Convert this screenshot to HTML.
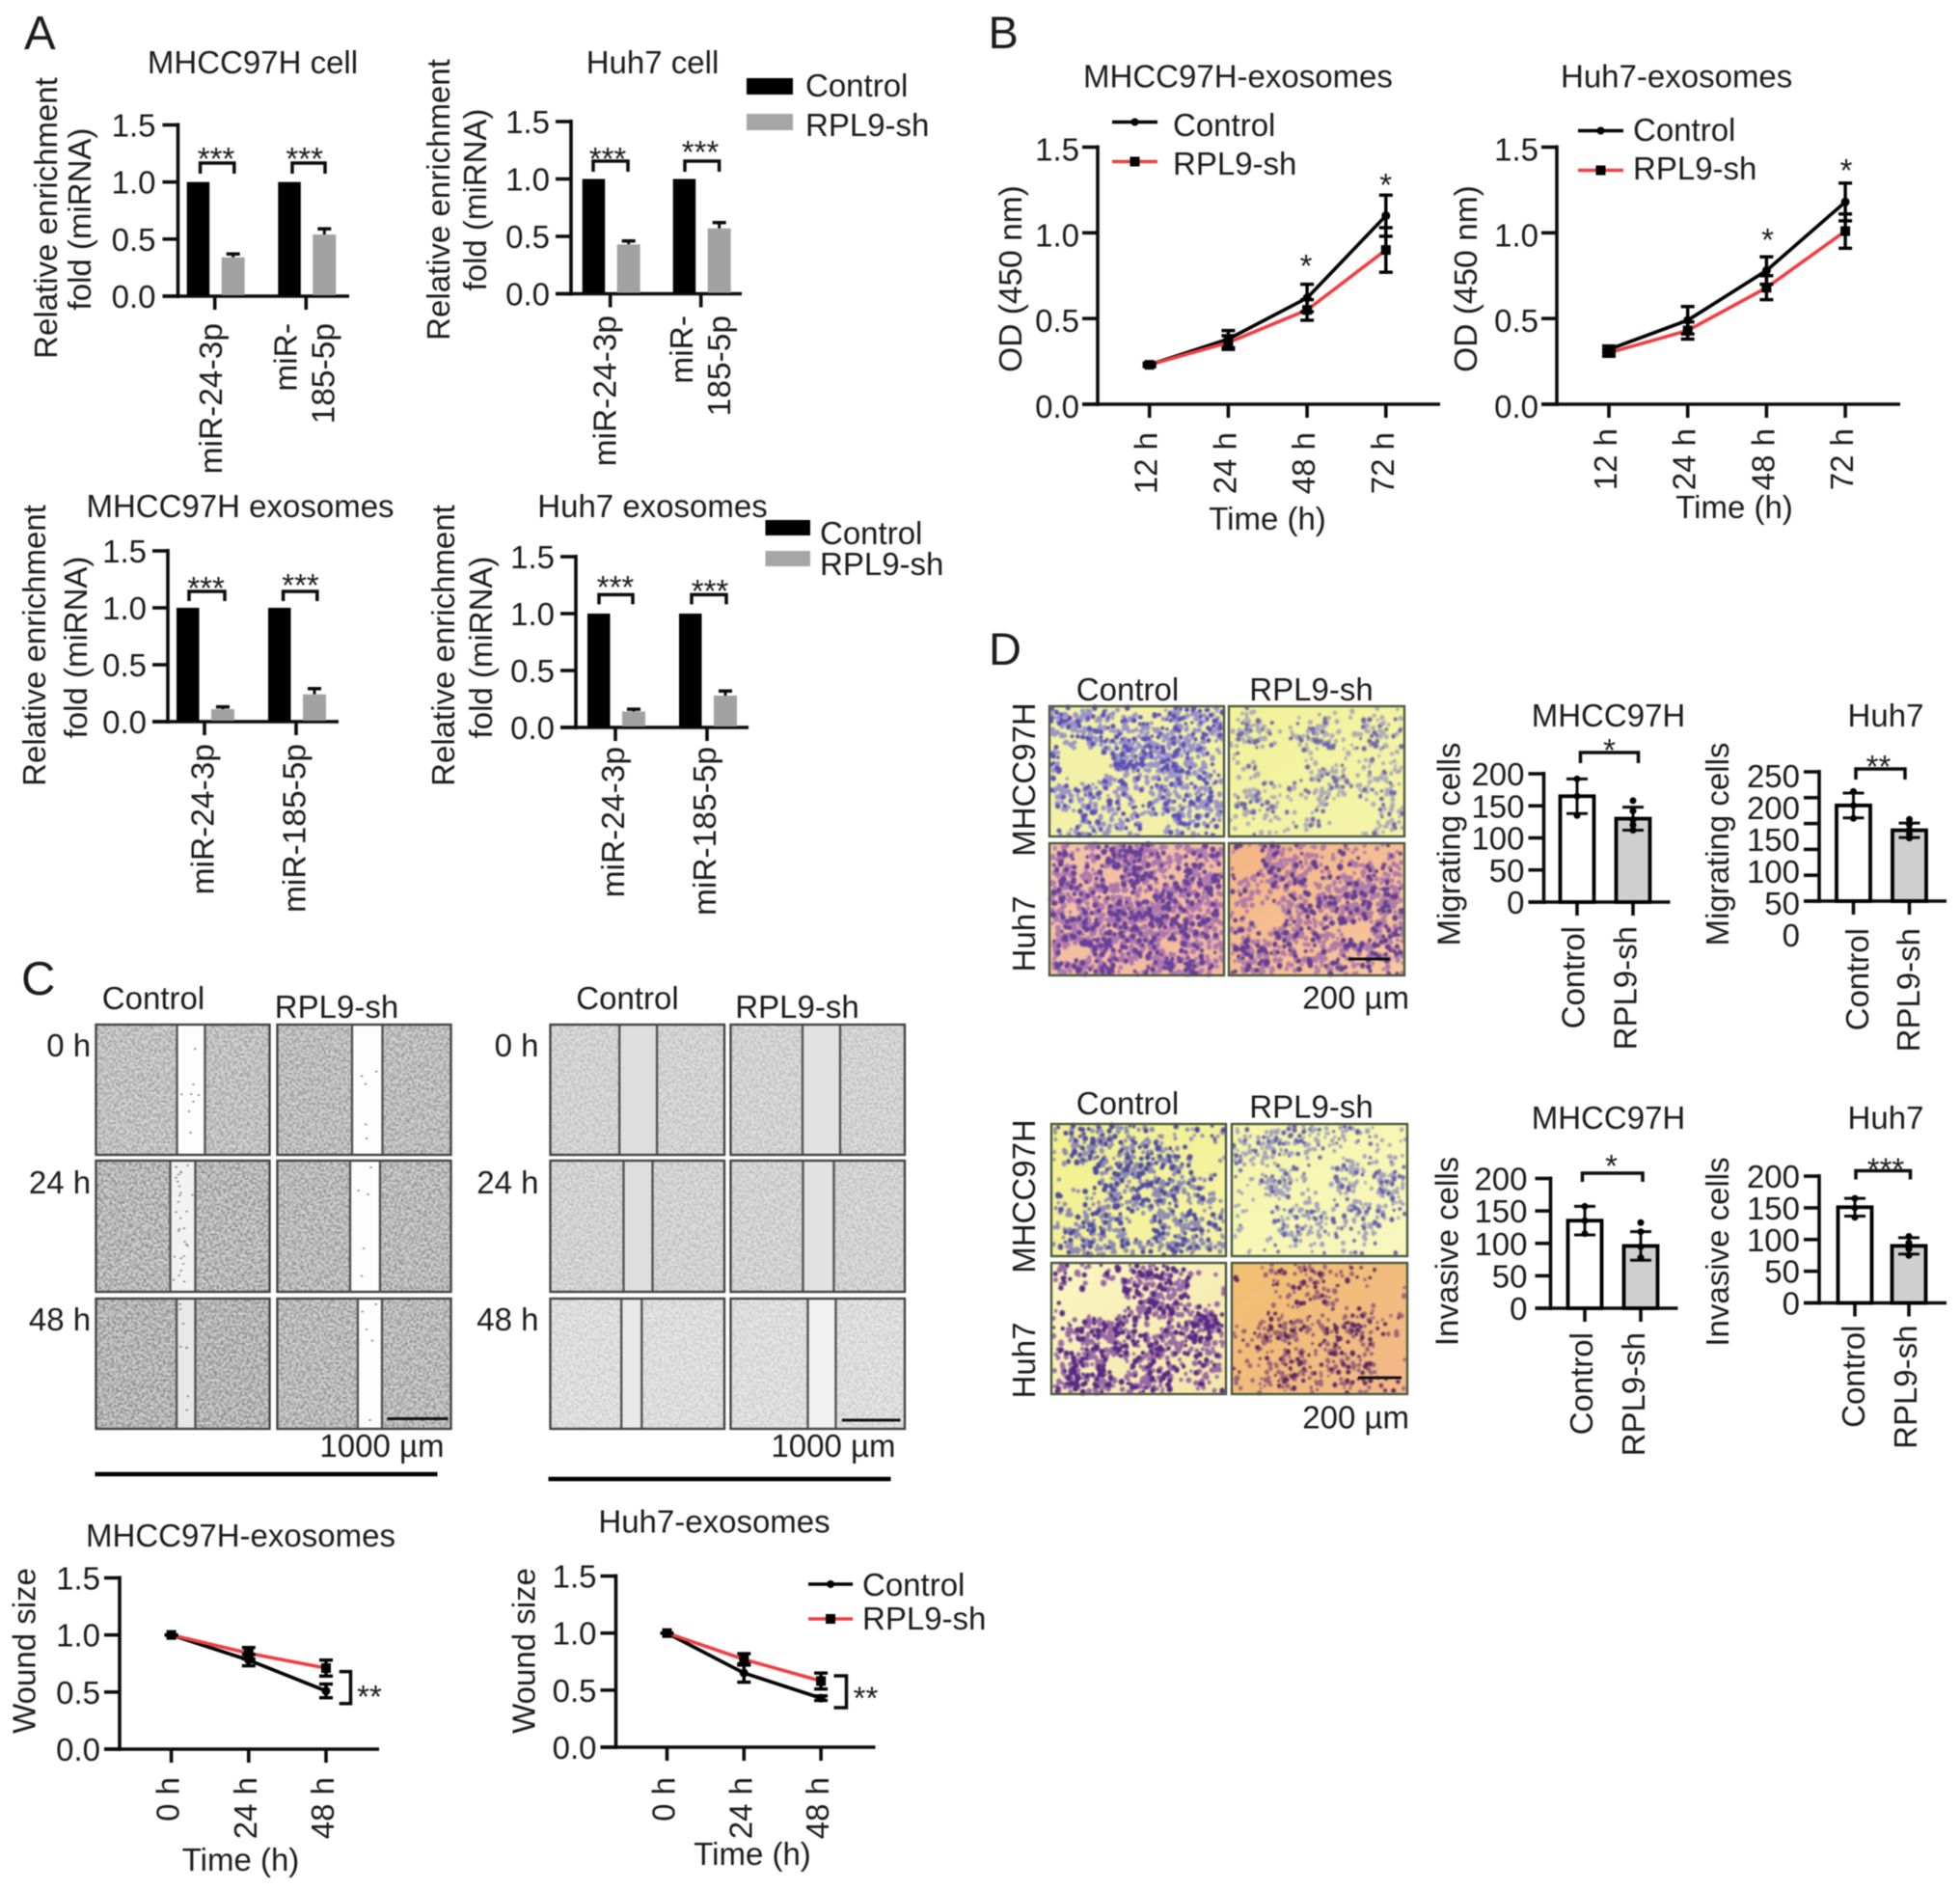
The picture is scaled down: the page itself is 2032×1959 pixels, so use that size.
<!DOCTYPE html>
<html lang="en">
<head>
<meta charset="utf-8">
<title>RPL9-sh exosome figure</title>
<style>
html,body{margin:0;padding:0;background:#fff;width:2032px;height:1959px;overflow:hidden}
svg{display:block;filter:blur(.55px)}
text{font-family:"Liberation Sans",sans-serif;fill:#1c1c1c}
</style>
</head>
<body>
<svg id="fig" xmlns="http://www.w3.org/2000/svg" width="2032" height="1959" viewBox="0 0 2032 1959">
<defs>
<filter id="grain" x="0" y="0" width="100%" height="100%" color-interpolation-filters="sRGB">
<feTurbulence type="fractalNoise" baseFrequency="0.45" numOctaves="3" seed="7"/>
<feColorMatrix type="matrix" values="0 0 0 0 0.2  0 0 0 0 0.2  0 0 0 0 0.2  3.4 0 0 0 -1.3"/>
<feGaussianBlur stdDeviation="0.55"/>
</filter>
</defs>
</svg>
<script>
/* ---------- Panel A data ---------- */
const aTicks = [0, 0.5, 1, 1.5];
const aTickLabels = ['0.0', '0.5', '1.0', '1.5'];
const a1Categories = ['miR-24-3p', 'miR-\n185-5p'];
const a1Control = [1, 1];
const a1Sh = [0.34, 0.54];
const a1ShErr = [0.03, 0.05];
const a2Categories = ['miR-24-3p', 'miR-\n185-5p'];
const a2Control = [1, 1];
const a2Sh = [0.43, 0.57];
const a2ShErr = [0.03, 0.05];
const a3Categories = ['miR-24-3p', 'miR-185-5p'];
const a3Control = [1, 1];
const a3Sh = [0.11, 0.24];
const a3ShErr = [0.02, 0.05];
const a4Categories = ['miR-24-3p', 'miR-185-5p'];
const a4Control = [1, 1];
const a4Sh = [0.14, 0.28];
const a4ShErr = [0.02, 0.04];

/* ---------- Panel B data ---------- */
const bCategories = ['12 h', '24 h', '48 h', '72 h'];
const b1Control = [0.23, 0.38, 0.62, 1.10];
const b1ControlErr = [0.01, 0.05, 0.08, 0.12];
const b1Sh = [0.23, 0.36, 0.55, 0.90];
const b1ShErr = [0.01, 0.04, 0.06, 0.13];
const b2Control = [0.32, 0.49, 0.78, 1.18];
const b2ControlErr = [0.02, 0.08, 0.08, 0.11];
const b2Sh = [0.30, 0.43, 0.68, 1.01];
const b2ShErr = [0.02, 0.05, 0.07, 0.10];

/* ---------- Panel C data ---------- */
const cCategories = ['0 h', '24 h', '48 h'];
const c1Control = [1, 0.78, 0.51];
const c1ControlErr = [0, 0.05, 0.06];
const c1Sh = [1, 0.84, 0.71];
const c1ShErr = [0, 0.05, 0.07];
const c2Control = [1, 0.65, 0.43];
const c2ControlErr = [0, 0.08, 0.02];
const c2Sh = [1, 0.77, 0.58];
const c2ShErr = [0, 0.05, 0.07];

/* ---------- Panel D data ---------- */
const dCategories = ['Control', 'RPL9-sh'];
const d1Ticks = [0, 50, 100, 150, 200];
const d2Ticks = [0, 50, 100, 150, 200, 250];
const d1Values = [165, 130];
const d1Errs = [27, 18];
const d1Dots = [[135, 165, 192], [112, 120, 128, 142, 158]];
const d2Values = [185, 137];
const d2Errs = [24, 14];
const d2Dots = [[160, 185, 212], [122, 130, 138, 148, 158]];
const d3Values = [135, 96];
const d3Errs = [22, 22];
const d3Dots = [[115, 135, 157], [78, 95, 118, 132]];
const d4Values = [151, 90];
const d4Errs = [14, 13];
const d4Dots = [[135, 150, 165], [75, 85, 95, 105]];

const SVGNS = 'http://www.w3.org/2000/svg';
const root = document.getElementById('fig');
const RED = '#ee3f43';
const BLACK = '#0c0c0c';

function mk(parent, tag, attrs, name, interact) {
  const node = document.createElementNS(SVGNS, tag);
  for (const k in attrs) node.setAttribute(k, attrs[k]);
  
  
  parent.appendChild(node);
  return node;
}
function line(p, x1, y1, x2, y2, name, w, c) {
  return mk(p, 'line', {x1, y1, x2, y2, stroke: c || BLACK, 'stroke-width': w || 3.6}, name);
}
function txt(p, s, x, y, name, o) {
  o = o || {};
  const a = {x, y, 'text-anchor': o.anchor || 'start', style: 'font-size:' + (o.size || 33) + 'px'};
  if (o.rot) a.transform = 'rotate(-90 ' + x + ' ' + y + ')';
  const t = mk(p, 'text', a, name);
  t.textContent = s;
  return t;
}
function group(name, dx, dy) {
  return mk(root, 'g', {transform: 'translate(' + (dx || 0) + ' ' + (dy || 0) + ')'}, name);
}

/* shared y axis: ticks, labels and x axis line */
function yAxis(g, L, scale, ticks, labels) {
  line(g, L.ax, L.yTop - 2, L.ax, L.y0 + 2, 'y-axis-line');
  line(g, L.ax - (L.xStub || 16), L.y0, L.xEnd, L.y0, 'x-axis-line');
  ticks.forEach(function (t, i) {
    const y = scale(t);
    line(g, L.ax - 16, y, L.ax, y, 'y-tick');
    const ly = L.labelBase !== undefined ? L.labelBase - i * L.labelStep : y + 12 + (L.labelDy || 0);
    txt(g, labels[i], L.ax - (L.labelGap || 20), ly, 'y-tick-label', {anchor: 'end'});
  });
}
function makeY(L, max) {
  return function (v) { return L.y0 - v / max * (L.y0 - L.yTop); };
}
function stars(g, s, x, cy, name, size) {
  txt(g, s, x, cy + 19, name, {anchor: 'middle', size: size || 33});
}
function bracket(g, x1, x2, y, d, name) {
  mk(g, 'path', {d: 'M' + x1 + ' ' + (y + d) + 'V' + y + 'H' + x2 + 'V' + (y + d), fill: 'none', stroke: BLACK, 'stroke-width': 3.5}, name);
}

/* Panel A grouped bars */
function groupedBars(name, L, cats, control, sh, err) {
  const g = group(name, L.dx, L.dy);
  const y = makeY(L, 1.5);
  const xCat = function (i) { return L.first + i * L.step; };
  yAxis(g, L, y, aTicks, aTickLabels);
  cats.forEach(function (c, i) {
    const xc = xCat(i);
    line(g, xc, L.y0, xc, L.y0 + 14, 'x-tick');
    mk(g, 'rect', {x: xc - 29, y: y(control[i]), width: 23.5, height: L.y0 - y(control[i]) - 1, fill: '#000'}, 'bar-control-' + i);
    line(g, xc + 19, y(sh[i]), xc + 19, y(sh[i] + err[i]), 'error-bar', 3);
    line(g, xc + 12, y(sh[i] + err[i]), xc + 26, y(sh[i] + err[i]), 'error-cap', 3.5);
    mk(g, 'rect', {x: xc + 7, y: y(sh[i]), width: 24, height: L.y0 - y(sh[i]) - 1, fill: '#a2a2a2'}, 'bar-rpl9-sh-' + i);
    const parts = c.split('\n');
    parts.forEach(function (part, k) {
      const off = parts.length === 1 ? 8 + (L.catDx || 0) : L.splitOff[k];
      txt(g, part, xc + off, L.labelTop, 'x-category-label', {rot: 1, anchor: 'end', size: 33.5});
    });
  });
  return g;
}

/* line charts */
function linePanel(name, L, cats, max, ticks, tickLabels, control, cErr, sh, sErr) {
  const g = group(name, L.dx, L.dy);
  const y = makeY(L, max);
  const xCat = function (i) { return L.first + i * L.step; };
  yAxis(g, L, y, ticks, tickLabels);
  cats.forEach(function (c, i) {
    line(g, xCat(i), L.y0, xCat(i), L.y0 + 14, 'x-tick');
    txt(g, c, xCat(i) + 8, L.labelTop, 'x-category-label', {rot: 1, anchor: 'end'});
  });
  const pts = function (arr) { return arr.map(function (v, i) { return xCat(i) + ',' + y(v); }).join(' '); };
  mk(g, 'polyline', {points: pts(control), fill: 'none', stroke: '#000', 'stroke-width': 3.6}, 'line-control');
  mk(g, 'polyline', {points: pts(sh), fill: 'none', stroke: RED, 'stroke-width': 3.6}, 'line-rpl9-sh');
  [[control, cErr, 'control'], [sh, sErr, 'rpl9-sh']].forEach(function (s) {
    s[0].forEach(function (v, i) {
      const x = xCat(i), hi = y(v + s[1][i]), lo = y(v - s[1][i]);
      line(g, x, hi, x, lo, 'error-bar-' + s[2], 3.4, '#000');
      line(g, x - 7, hi, x + 7, hi, 'error-cap-' + s[2], 3.4, '#000');
      line(g, x - 7, lo, x + 7, lo, 'error-cap-' + s[2], 3.4, '#000');
      if (s[2] === 'control') {
        mk(g, 'circle', {cx: x, cy: y(v), r: 4.5, fill: '#000'}, 'point-control');
      } else {
        mk(g, 'rect', {x: x - 5, y: y(v) - 5, width: 10, height: 10, fill: '#000'}, 'point-rpl9-sh');
      }
    });
  });
  return g;
}
function lineLegend(p, x1, x2, tx, yc, yr, bc, br) {
  line(p, x1, yc, x2, yc, 'legend-line-control', 3.6, '#000');
  mk(p, 'circle', {cx: (x1 + x2) / 2, cy: yc, r: 4, fill: '#000'}, 'legend-marker-control');
  txt(p, 'Control', tx, bc, 'legend-label-control');
  line(p, x1, yr, x2, yr, 'legend-line-rpl9-sh', 3.6, RED);
  mk(p, 'rect', {x: (x1 + x2) / 2 - 5, y: yr - 5, width: 10, height: 10, fill: '#000'}, 'legend-marker-rpl9-sh');
  txt(p, 'RPL9-sh', tx, br, 'legend-label-rpl9-sh');
}
function barLegend(p, x1, x2, yc1, yc2, h, tx, b1, b2) {
  mk(p, 'rect', {x: x1, y: yc1, width: x2 - x1, height: h, fill: '#000'}, 'legend-swatch-control');
  txt(p, 'Control', tx, b1, 'legend-label-control');
  mk(p, 'rect', {x: x1, y: yc2, width: x2 - x1, height: h, fill: '#a6a6a6'}, 'legend-swatch-rpl9-sh');
  txt(p, 'RPL9-sh', tx, b2, 'legend-label-rpl9-sh');
}

/* Panel D bar + dots */
function cellBars(name, L, max, ticks, values, errs, dots) {
  const g = group(name, L.dx, L.dy);
  const y = makeY(L, max);
  yAxis(g, L, y, ticks, ticks.map(String));
  const xs = [L.first, L.first + L.step];
  dCategories.forEach(function (c, i) {
    const x = xs[i];
    line(g, x, L.y0, x, L.y0 + 14, 'x-tick');
    txt(g, c, L.lblX[i] + 8, L.labelTop, 'x-category-label', {rot: 1, anchor: 'end'});
    mk(g, 'rect', {x: x - 17.5, y: y(values[i]), width: 35, height: L.y0 - y(values[i]), fill: i ? '#cfcfcf' : '#fff', stroke: '#000', 'stroke-width': 3.8}, 'bar-' + c.toLowerCase());
    const hi = y(values[i] + errs[i]), lo = y(values[i] - errs[i]);
    line(g, x, hi, x, lo, 'error-bar', 3);
    line(g, x - 11, hi, x + 11, hi, 'error-cap', 3);
    line(g, x - 11, lo, x + 11, lo, 'error-cap', 3);
    dots[i].forEach(function (d) {
      mk(g, 'circle', {cx: x, cy: y(d), r: 3.5, fill: '#000'}, 'data-dot');
    });
  });
  return g;
}

/* ---------- Panel A ---------- */
txt(root, 'A', 25, 51, 'panel-label-a', {size: 49});
const gA1 = groupedBars('chart-a-mhcc97h-cell', {dx: -1, dy: 0, ax: 185.5, y0: 307, yTop: 129.5, xEnd: 363, first: 223.7, step: 94.6, labelTop: 335, labelGap: 23, catDx: -0.7, splitOff: [-10, 29.4]}, a1Categories, a1Control, a1Sh, a1ShErr);
txt(gA1, 'MHCC97H cell', 263, 76, 'chart-title', {anchor: 'middle'});
txt(gA1, 'Relative enrichment', 60, 226, 'y-axis-title', {rot: 1, anchor: 'middle'});
txt(gA1, 'fold (miRNA)', 95, 227, 'y-axis-title', {rot: 1, anchor: 'middle'});
stars(gA1, '***', 225, 157, 'significance-stars'); bracket(gA1, 208.6, 243.8, 169, 11, 'significance-bracket');
stars(gA1, '***', 316.7, 157, 'significance-stars'); bracket(gA1, 304, 338, 169, 11, 'significance-bracket');

const gA2 = groupedBars('chart-a-huh7-cell', {dx: -3, dy: 0, ax: 595, y0: 304.5, yTop: 126, xEnd: 772, first: 635.7, step: 94, labelTop: 327, labelGap: 22, catDx: -2.4, splitOff: [-8.7, 30.3]}, a2Categories, a2Control, a2Sh, a2ShErr);
txt(gA2, 'Huh7 cell', 679.5, 76, 'chart-title', {anchor: 'middle'});
txt(gA2, 'Relative enrichment', 469, 207, 'y-axis-title', {rot: 1, anchor: 'middle'});
txt(gA2, 'fold (miRNA)', 507, 207, 'y-axis-title', {rot: 1, anchor: 'middle'});
stars(gA2, '***', 633, 157, 'significance-stars'); bracket(gA2, 618, 654, 167, 11, 'significance-bracket');
stars(gA2, '***', 729, 150, 'significance-stars'); bracket(gA2, 713, 748.6, 167, 11, 'significance-bracket');
barLegend(gA2, 777, 825, 81, 118, 17, 838, 100, 141);

const gA3 = groupedBars('chart-a-mhcc97h-exosomes', {dx: -2, dy: -3, ax: 176, y0: 751, yTop: 574, xEnd: 353, first: 214, step: 95, labelTop: 774, labelGap: 22, catDx: 1.5}, a3Categories, a3Control, a3Sh, a3ShErr);
txt(gA3, 'MHCC97H exosomes', 251, 539, 'chart-title', {anchor: 'middle'});
txt(gA3, 'Relative enrichment', 49, 672, 'y-axis-title', {rot: 1, anchor: 'middle'});
txt(gA3, 'fold (miRNA)', 92, 674, 'y-axis-title', {rot: 1, anchor: 'middle'});
stars(gA3, '***', 215.6, 605, 'significance-stars'); bracket(gA3, 198, 235, 616, 10, 'significance-bracket');
stars(gA3, '***', 313.5, 602, 'significance-stars'); bracket(gA3, 295.6, 330.8, 616, 10, 'significance-bracket');

const gA4 = groupedBars('chart-a-huh7-exosomes', {dx: -3, dy: -3, ax: 600, y0: 757, yTop: 580, xEnd: 779, first: 641, step: 95, labelTop: 777, labelGap: 22, catDx: 1}, a4Categories, a4Control, a4Sh, a4ShErr);
txt(gA4, 'Huh7 exosomes', 679.5, 539, 'chart-title', {anchor: 'middle'});
txt(gA4, 'Relative enrichment', 474, 672, 'y-axis-title', {rot: 1, anchor: 'middle'});
txt(gA4, 'fold (miRNA)', 513, 674, 'y-axis-title', {rot: 1, anchor: 'middle'});
stars(gA4, '***', 641, 604, 'significance-stars'); bracket(gA4, 624, 659, 619.4, 10, 'significance-bracket');
stars(gA4, '***', 739, 608, 'significance-stars'); bracket(gA4, 720, 756, 619.4, 10, 'significance-bracket');
barLegend(gA4, 796.5, 843, 542, 574, 16, 853, 567, 599);

/* ---------- Panel B ---------- */
const bTicks = [0, 0.5, 1, 1.5];
txt(root, 'B', 1024.5, 50, 'panel-label-b', {size: 47});
const gB1 = linePanel('chart-b-mhcc97h-exosomes', {ax: 1138, y0: 419, yTop: 152.5, xEnd: 1493, first: 1191.7, step: 81.7, labelTop: 448, labelGap: 19, labelDy: 2}, bCategories, 1.5, bTicks, aTickLabels, b1Control, b1ControlErr, b1Sh, b1ShErr);
txt(gB1, 'MHCC97H-exosomes', 1123, 90.5, 'chart-title');
txt(gB1, 'OD (450 nm)', 1059, 289, 'y-axis-title', {rot: 1, anchor: 'middle', size: 33.5});
txt(gB1, 'Time (h)', 1314, 549, 'x-axis-title', {anchor: 'middle'});
stars(gB1, '*', 1354, 268, 'significance-star'); stars(gB1, '*', 1436.7, 184, 'significance-star');
lineLegend(gB1, 1153, 1200, 1216, 126.5, 167.5, 141, 181);

const gB2 = linePanel('chart-b-huh7-exosomes', {ax: 1614, y0: 419, yTop: 152.5, xEnd: 1970, first: 1668, step: 81.7, labelTop: 444, labelGap: 19, labelDy: 2}, bCategories, 1.5, bTicks, aTickLabels, b2Control, b2ControlErr, b2Sh, b2ShErr);
txt(gB2, 'Huh7-exosomes', 1618, 90.5, 'chart-title');
txt(gB2, 'OD (450 nm)', 1531, 289, 'y-axis-title', {rot: 1, anchor: 'middle', size: 33.5});
txt(gB2, 'Time (h)', 1798, 537, 'x-axis-title', {anchor: 'middle'});
stars(gB2, '*', 1832.6, 241, 'significance-star'); stars(gB2, '*', 1914, 169, 'significance-star');
lineLegend(gB2, 1636, 1683, 1693, 135.5, 176.5, 146, 186);

/* ---------- Micrographs ---------- */
function mulberry(a) {
  return function () {
    a |= 0; a = a + 0x6D2B79F5 | 0;
    let t = Math.imul(a ^ a >>> 15, 1 | a);
    t = t + Math.imul(t ^ t >>> 7, 61 | t) ^ t;
    return ((t ^ t >>> 14) >>> 0) / 4294967296;
  };
}
function woundPanel(p, x, y, w, h, gapL, gapR, tone, gapFill, shade, specks, seed, name) {
  const g = mk(p, 'g', {}, name);
  mk(g, 'rect', {x, y, width: w, height: h, fill: tone}, 'micrograph-background');
  mk(g, 'rect', {x: x + 1, y: y + 1, width: w - 2, height: h - 2, filter: 'url(#grain)', opacity: shade}, 'cell-texture');
  mk(g, 'rect', {x: gapL, y: y + 1, width: gapR - gapL, height: h - 2, fill: gapFill}, 'wound-gap');
  const r = mulberry(seed);
  let d = '';
  for (let i = 0; i < specks; i++) {
    const cx = gapL + 3 + r() * (gapR - gapL - 6), cy = y + 4 + r() * (h - 8);
    d += 'M' + (cx - 1.2).toFixed(1) + ' ' + cy.toFixed(1) + 'h2.4v1.6h-2.4z';
  }
  mk(g, 'path', {d, fill: '#8a8a8a'}, 'gap-cells');
  line(g, gapL, y, gapL, y + h, 'wound-edge', 2.4, '#555');
  line(g, gapR, y, gapR, y + h, 'wound-edge', 2.4, '#555');
  mk(g, 'rect', {x, y, width: w, height: h, fill: 'none', stroke: '#444', 'stroke-width': 2.4}, 'micrograph-border');
}
const woundRows = [[1063, 135], [1204, 136], [1347, 135]];
const gC = group('panel-c-wound-images', -1.5, -1);
const gCR = group('panel-c-wound-images-right', -2.5, -1);
txt(root, 'C', 22, 1031, 'panel-label-c', {size: 49});
const leftGaps = [[[185, 214], [366.5, 398]], [[178, 204], [364.5, 395.5]], [[184.6, 204], [372.4, 397.5]]];
const rightGaps = [[[644.7, 683.6], [834.5, 873.5]], [[649, 679], [835, 867]], [[646.7, 667.8], [840, 869]]];
woundRows.forEach(function (row, r) {
  woundPanel(gC, 101, row[0], 180, row[1], leftGaps[r][0][0], leftGaps[r][0][1], r === 2 ? '#dadada' : '#dedede', r === 0 ? '#fdfdfd' : (r === 1 ? '#f2f2f2' : '#e8e8e8'), r === 0 ? .42 : .55, r === 1 ? 30 : 8, 11 + r, 'wound-image-left-control-' + r);
  woundPanel(gC, 289, row[0], 180, row[1], leftGaps[r][1][0], leftGaps[r][1][1], '#dcdcdc', '#fdfdfd', r === 0 ? .46 : .5, 5, 21 + r, 'wound-image-left-rpl9-sh-' + r);
  woundPanel(gCR, 573, row[0], 180.5, row[1], rightGaps[r][0][0], rightGaps[r][0][1], r === 2 ? '#ececec' : '#e4e4e4', r === 2 ? '#e9e9e9' : '#dedede', r === 2 ? .2 : .25, 0, 31 + r, 'wound-image-right-control-' + r);
  woundPanel(gCR, 760, row[0], 180.5, row[1], rightGaps[r][1][0], rightGaps[r][1][1], r === 2 ? '#ececec' : '#e4e4e4', r === 2 ? '#f1f1f1' : '#e2e2e2', r === 2 ? .2 : .25, 0, 41 + r, 'wound-image-right-rpl9-sh-' + r);
});
txt(gC, 'Control', 160.5, 1047, 'column-label-control', {anchor: 'middle'});
txt(gC, 'RPL9-sh', 350.5, 1056, 'column-label-rpl9-sh', {anchor: 'middle'});
txt(gCR, 'Control', 653, 1047, 'column-label-control', {anchor: 'middle'});
txt(gCR, 'RPL9-sh', 829, 1056, 'column-label-rpl9-sh', {anchor: 'middle'});
['0 h', '24 h', '48 h'].forEach(function (s, i) {
  const b = [1096, 1238, 1380][i];
  txt(gC, s, 95.6, b, 'time-row-label', {anchor: 'end'});
  txt(gCR, s, 561, b, 'time-row-label', {anchor: 'end'});
});
line(gC, 403, 1471.5, 466, 1471.5, 'scale-bar', 3, '#111');
line(gCR, 875.4, 1473, 936, 1473, 'scale-bar', 3, '#111');
txt(gC, '1000 µm', 462, 1511, 'scale-bar-label', {anchor: 'end'});
txt(gCR, '1000 µm', 931, 1511, 'scale-bar-label', {anchor: 'end'});
line(gC, 100, 1529, 455, 1529, 'divider-line', 4.5, '#000');
line(gCR, 571, 1534, 926, 1534, 'divider-line', 4.5, '#000');

/* ---------- Panel C charts ---------- */
const gC1 = linePanel('chart-c-wound-mhcc97h', {dx: -1, dy: -2, ax: 125, y0: 1815, yTop: 1637.5, xEnd: 394, first: 178.6, step: 80.2, labelTop: 1844}, cCategories, 1.5, bTicks, aTickLabels, c1Control, c1ControlErr, c1Sh, c1ShErr);
txt(gC1, 'MHCC97H-exosomes', 250.5, 1605, 'chart-title', {anchor: 'middle'});
txt(gC1, 'Wound size', 37.5, 1713, 'y-axis-title', {rot: 1, anchor: 'middle'});
txt(gC1, 'Time (h)', 250.5, 1941, 'x-axis-title', {anchor: 'middle'});
mk(gC1, 'path', {d: 'M352.7 1734.6H364.5V1767.7H352.7', fill: 'none', stroke: BLACK, 'stroke-width': 3.5}, 'significance-bracket');
stars(gC1, '**', 384, 1753, 'significance-stars');

const gC2 = linePanel('chart-c-wound-huh7', {dx: -2.5, dy: -2, ax: 641, y0: 1813, yTop: 1635.6, xEnd: 910, first: 694, step: 79.8, labelTop: 1844}, cCategories, 1.5, bTicks, aTickLabels, c2Control, c2ControlErr, c2Sh, c2ShErr);
txt(gC2, 'Huh7-exosomes', 743, 1590.5, 'chart-title', {anchor: 'middle'});
txt(gC2, 'Wound size', 557, 1713, 'y-axis-title', {rot: 1, anchor: 'middle'});
txt(gC2, 'Time (h)', 782.5, 1935, 'x-axis-title', {anchor: 'middle'});
mk(gC2, 'path', {d: 'M867 1739H880V1772H867', fill: 'none', stroke: BLACK, 'stroke-width': 3.5}, 'significance-bracket');
stars(gC2, '**', 900, 1754.6, 'significance-stars');
lineLegend(gC2, 840.5, 886.6, 896.5, 1644, 1680, 1656, 1691);

/* ---------- Panel D ---------- */
txt(root, 'D', 1025, 689, 'panel-label-d', {size: 47});
function transwell(p, x, y, w, h, bg, bg2, cellC, cellC2, clusters, voids, n, rmin, rmax, seed, name) {
  const g = mk(p, 'g', {}, name);
  const gid = 'grad' + seed;
  const defs = mk(g, 'linearGradient', {id: gid, x1: 0, y1: 0, x2: 1, y2: 1}, 'background-gradient');
  mk(defs, 'stop', {offset: '0%', 'stop-color': bg}, 'gradient-start');
  mk(defs, 'stop', {offset: '100%', 'stop-color': bg2}, 'gradient-end');
  mk(g, 'rect', {x, y, width: w, height: h, fill: 'url(#' + gid + ')'}, 'micrograph-background');
  const r = mulberry(seed);
  const paths = ['', ''];
  for (let i = 0; i < n; i++) {
    let px, py;
    if (r() < .45) {
      const c = clusters[Math.floor(r() * clusters.length)];
      const a = r() * Math.PI * 2, q = Math.sqrt(r()) * c[2] * 1.25;
      px = c[0] + Math.cos(a) * q; py = c[1] + Math.sin(a) * q;
    } else { px = r(); py = r(); }
    if (px < .01 || px > .99 || py < .01 || py > .99) continue;
    let skip = false;
    voids.forEach(function (v) {
      const dx = (px - v[0]) / v[2], dy = (py - v[1]) / v[3];
      if (dx * dx + dy * dy < 1) skip = true;
    });
    if (skip) continue;
    const rad = rmin + r() * (rmax - rmin);
    const cx = (x + px * w).toFixed(1), cy = (y + py * h).toFixed(1);
    paths[r() < .3 ? 0 : 1] += 'M' + (cx - rad).toFixed(1) + ' ' + cy + 'a' + rad.toFixed(1) + ' ' + rad.toFixed(1) + ' 0 1 0 ' + (2 * rad).toFixed(1) + ' 0a' + rad.toFixed(1) + ' ' + rad.toFixed(1) + ' 0 1 0 ' + (-2 * rad).toFixed(1) + ' 0z';
  }
  mk(g, 'path', {d: paths[1], fill: cellC2, style: 'filter:blur(.8px)'}, 'stained-cells-light');
  mk(g, 'path', {d: paths[0], fill: cellC, style: 'filter:blur(.8px)'}, 'stained-cells-dark');
  mk(g, 'rect', {x, y, width: w, height: h, fill: 'none', stroke: '#4e5a3c', 'stroke-width': 2.4}, 'micrograph-border');
}
const gD = group('panel-d-transwell-images', -1, 0);
transwell(gD, 1089, 732, 181, 135, '#f4f2a6', '#f2f0a8', '#5a50b8', '#9a94c8',
  [[.25, .75, .2], [.78, .68, .2], [.68, .35, .15], [.42, .3, .15], [.15, .12, .15], [.85, .15, .15]],
  [[.2, .45, .15, .13], [.08, .88, .1, .07], [.6, .9, .08, .07]], 1150, 1.6, 2.9, 101, 'transwell-mhcc97h-control-migration');
transwell(gD, 1275, 732, 182, 135, '#f3f29a', '#f4f4aa', '#6f68a8', '#aeabb8',
  [[.12, .2, .08], [.5, .25, .09], [.55, .6, .1], [.15, .75, .1], [.85, .55, .12], [.82, .2, .1], [.95, .85, .08]],
  [[.3, .45, .12, .16], [.7, .82, .12, .14], [.3, .05, .1, .07]], 560, 1.5, 2.7, 102, 'transwell-mhcc97h-rpl9-migration');
transwell(gD, 1089, 874, 181, 137, '#f2c5a6', '#f3b99c', '#664098', '#ae78ae',
  [[.2, .4, .2], [.8, .45, .2], [.5, .65, .18], [.2, .85, .15], [.75, .9, .15], [.5, .15, .14]],
  [[.16, .82, .09, .06], [.36, .25, .05, .07], [.7, .78, .07, .05]], 1500, 1.7, 3.2, 103, 'transwell-huh7-control-migration');
transwell(gD, 1275, 874, 182, 137, '#f4b585', '#f6c8a0', '#643e90', '#b07ca8',
  [[.3, .15, .15], [.85, .35, .15], [.35, .6, .12], [.65, .45, .12], [.15, .85, .1], [.6, .85, .14], [.9, .75, .12]],
  [[.1, .15, .08, .12], [.22, .55, .1, .1], [.75, .68, .06, .08]], 1050, 1.7, 3.1, 104, 'transwell-huh7-rpl9-migration');
line(gD, 1399, 994, 1442, 994, 'scale-bar', 3, '#111');
transwell(gD, 1091, 1165, 181, 137, '#f2f08e', '#f6f4a4', '#4d4aa0', '#8f8cb4',
  [[.3, .2, .15], [.55, .3, .15], [.4, .55, .16], [.75, .55, .15], [.25, .85, .14], [.7, .85, .14]],
  [[.15, .4, .1, .1], [.88, .25, .08, .14], [.52, .78, .07, .06]], 900, 1.6, 2.9, 105, 'transwell-mhcc97h-control-invasion');
transwell(gD, 1278, 1165, 182, 137, '#f6f5a8', '#f8f7c0', '#6461a8', '#a4a3bd',
  [[.12, .2, .1], [.4, .12, .12], [.27, .45, .07], [.65, .4, .1], [.4, .75, .11], [.75, .7, .1], [.88, .45, .08]],
  [[.5, .38, .08, .1], [.15, .75, .08, .13], [.9, .85, .07, .1]], 600, 1.4, 2.6, 106, 'transwell-mhcc97h-rpl9-invasion');
transwell(gD, 1091, 1309, 181, 136, '#faf7c2', '#f4e6aa', '#562a82', '#9a6aa6',
  [[.6, .2, .15], [.65, .5, .18], [.3, .55, .12], [.2, .85, .13], [.55, .85, .14], [.92, .5, .1]],
  [[.3, .3, .13, .13], [.88, .2, .1, .12], [.12, .28, .07, .14], [.38, .8, .05, .06]], 1000, 1.6, 3.1, 107, 'transwell-huh7-control-invasion');
transwell(gD, 1278, 1309, 182, 136, '#f3c070', '#f2b88a', '#5d2a5c', '#9c6476',
  [[.38, .15, .15], [.45, .6, .14], [.25, .5, .1], [.72, .45, .1], [.3, .85, .1], [.65, .82, .12]],
  [[.12, .25, .11, .2], [.88, .2, .1, .18], [.9, .7, .07, .15]], 560, 1.3, 2.7, 108, 'transwell-huh7-rpl9-invasion');
line(gD, 1409, 1428, 1454, 1428, 'scale-bar', 3, '#111');

txt(gD, 'Control', 1170, 726, 'column-label-control', {anchor: 'middle'});
txt(gD, 'RPL9-sh', 1360.5, 726, 'column-label-rpl9-sh', {anchor: 'middle'});
txt(gD, 'Control', 1170, 1155, 'column-label-control', {anchor: 'middle'});
txt(gD, 'RPL9-sh', 1360.5, 1158.5, 'column-label-rpl9-sh', {anchor: 'middle'});
txt(gD, 'MHCC97H', 1074, 808, 'row-label-mhcc97h', {rot: 1, anchor: 'middle'});
txt(gD, 'Huh7', 1074, 968, 'row-label-huh7', {rot: 1, anchor: 'middle'});
txt(gD, 'MHCC97H', 1074, 1240, 'row-label-mhcc97h', {rot: 1, anchor: 'middle'});
txt(gD, 'Huh7', 1074, 1410, 'row-label-huh7', {rot: 1, anchor: 'middle'});
txt(gD, '200 µm', 1462, 1045.5, 'scale-bar-label', {anchor: 'end'});
txt(gD, '200 µm', 1462, 1480.5, 'scale-bar-label', {anchor: 'end'});

const gD1 = cellBars('chart-d-migrating-mhcc97h', {dx: -1.5, dy: 0, ax: 1602, y0: 935, yTop: 802, xEnd: 1733, first: 1636.5, step: 58, labelTop: 960, lblX: [1636, 1690], labelGap: 20}, 200, d1Ticks, d1Values, d1Errs, d1Dots);
txt(gD1, 'MHCC97H', 1669, 753, 'chart-title', {anchor: 'middle'});
txt(gD1, 'Migrating cells', 1515, 875, 'y-axis-title', {rot: 1, anchor: 'middle'});
bracket(gD1, 1640, 1700, 780, 11, 'significance-bracket');
stars(gD1, '*', 1670, 770, 'significance-star');

const gD2 = cellBars('chart-d-migrating-huh7', {dx: -2, dy: 0, ax: 1888, y0: 934, yTop: 800, xEnd: 2020, first: 1923.5, step: 58, labelTop: 962, lblX: [1931, 1984], labelGap: 20, labelBase: 981, labelStep: 33}, 250, d2Ticks, d2Values, d2Errs, d2Dots);
txt(gD2, 'Huh7', 1957, 753, 'chart-title', {anchor: 'middle'});
txt(gD2, 'Migrating cells', 1794, 875, 'y-axis-title', {rot: 1, anchor: 'middle'});
bracket(gD2, 1926, 1977, 797, 11, 'significance-bracket');
stars(gD2, '**', 1949.5, 787, 'significance-stars');

const gD3 = cellBars('chart-d-invasive-mhcc97h', {dx: -1.5, dy: -4, ax: 1609, y0: 1360, yTop: 1225.5, xEnd: 1741, first: 1644.5, step: 58, labelTop: 1385, lblX: [1644.5, 1698.5], labelGap: 24}, 200, d1Ticks, d3Values, d3Errs, d3Dots);
txt(gD3, 'MHCC97H', 1669, 1174, 'chart-title', {anchor: 'middle'});
txt(gD3, 'Invasive cells', 1513, 1301, 'y-axis-title', {rot: 1, anchor: 'middle'});
bracket(gD3, 1642, 1704.5, 1220, 9, 'significance-bracket');
stars(gD3, '*', 1672, 1205, 'significance-star');

const gD4 = cellBars('chart-d-invasive-huh7', {dx: -2, dy: -3.5, ax: 1888, y0: 1354, yTop: 1222.6, xEnd: 2020, first: 1925, step: 56, labelTop: 1377, lblX: [1927, 1981], labelGap: 20}, 200, d1Ticks, d4Values, d4Errs, d4Dots);
txt(gD4, 'Huh7', 1957, 1173.5, 'chart-title', {anchor: 'middle'});
txt(gD4, 'Invasive cells', 1794, 1301, 'y-axis-title', {rot: 1, anchor: 'middle'});
bracket(gD4, 1926, 1982.5, 1217, 9, 'significance-bracket');
stars(gD4, '***', 1957, 1208, 'significance-stars');
</script>
</body>
</html>
